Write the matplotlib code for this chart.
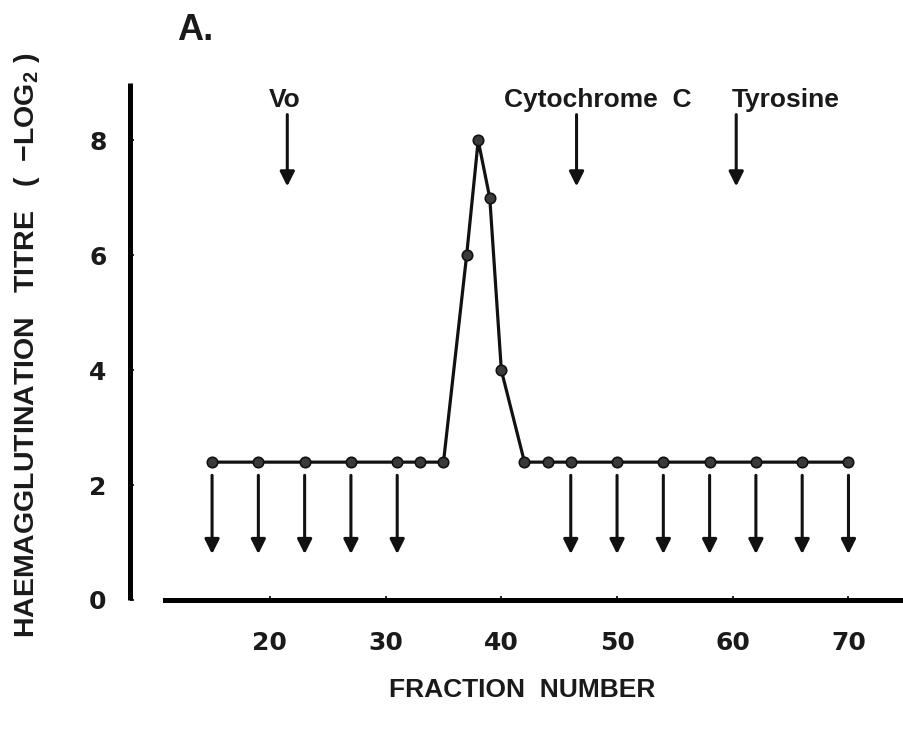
import numpy as np
import matplotlib
matplotlib.use("Agg")
import matplotlib.pyplot as plt

plt.rcParams['font.family'] = ['Liberation Sans', 'DejaVu Sans']
plt.rcParams['font.weight'] = 'bold'
plt.rcParams['mathtext.fontset'] = 'custom'
plt.rcParams['mathtext.rm'] = 'Liberation Sans:bold'
plt.rcParams['mathtext.bf'] = 'Liberation Sans:bold'

# haemagglutination titre per fraction
fractions = [15, 19, 23, 27, 31, 33, 35, 37, 38, 39, 40, 42, 44, 46, 50, 54, 58, 62, 66, 70]
titre = [2.4, 2.4, 2.4, 2.4, 2.4, 2.4, 2.4, 6, 8, 7, 4, 2.4, 2.4, 2.4, 2.4, 2.4, 2.4, 2.4, 2.4, 2.4]

# fractions where titre fell below detection (downward arrows)
below_fractions = [15, 19, 23, 27, 31, 46, 50, 54, 58, 62, 66, 70]

# elution markers
marker_names = ['Vo', 'Cytochrome  C', 'Tyrosine']
marker_fractions = [21.5, 46.5, 60.3]

x_ticks = [20, 30, 40, 50, 60, 70]
y_ticks = [0, 2, 4, 6, 8]

fig = plt.figure(figsize=(9.04, 7.36), dpi=100)
ax = fig.add_axes([0.1825, 0.1848, 0.8175, 0.7024])
ax.set_xlim(10.93, 74.8)
ax.set_ylim(0, 9.0)

for s in ['top', 'right']:
    ax.spines[s].set_visible(False)
ax.spines['left'].set_position(('outward', 25))
ax.spines['left'].set_linewidth(3.6)
ax.spines['bottom'].set_linewidth(3.6)
ax.spines['left'].set_capstyle('butt')

ax.set_xticks(x_ticks)
ax.set_yticks(y_ticks)
ax.tick_params(direction='in', length=3, width=1.2, colors='black')
ax.tick_params(axis='x', pad=22)
ax.tick_params(axis='y', pad=17)
for lab in ax.get_xticklabels() + ax.get_yticklabels():
    lab.set_fontfamily('DejaVu Sans')
    lab.set_fontweight('bold')
    lab.set_fontsize(18)
    lab.set_color('#1a1a1a')

ax.plot(fractions, titre, color='#111111', lw=2.3, marker='o', ms=7.5,
        mfc='#3a3a3a', mec='#111111', mew=1.2, clip_on=False, zorder=3)

for f in below_fractions:
    ax.annotate('', xy=(f, 0.8), xytext=(f, 2.17),
                arrowprops=dict(arrowstyle='-|>', lw=2.2, color='#111111',
                                mutation_scale=22, shrinkA=0, shrinkB=0))

for f in marker_fractions:
    ax.annotate('', xy=(f, 7.2), xytext=(f, 8.45),
                arrowprops=dict(arrowstyle='-|>', lw=2.2, color='#111111',
                                mutation_scale=22, shrinkA=0, shrinkB=0))

ax.text(21.3, 8.7, marker_names[0], ha='center', va='center', fontsize=19, color='#1a1a1a')
ax.text(48.3, 8.7, marker_names[1], ha='center', va='center', fontsize=19, color='#1a1a1a')
ax.text(59.9, 8.7, marker_names[2], ha='left', va='center', fontsize=19, color='#1a1a1a')

fig.text(522 / 904, 1 - 690 / 736, 'FRACTION  NUMBER', ha='center', va='center',
         fontsize=19, color='#1a1a1a')
fig.text(27 / 904, 1 - 345 / 736, 'HAEMAGGLUTINATION   TITRE   (  $-$LOG$_2$ )',
         rotation=90, ha='center', va='center', fontsize=20.5, color='#1a1a1a')
fig.text(177 / 904, 1 - 31 / 736, 'A.', ha='left', va='center', fontsize=26, color='#1a1a1a')

fig.savefig('out.png', dpi=100)
